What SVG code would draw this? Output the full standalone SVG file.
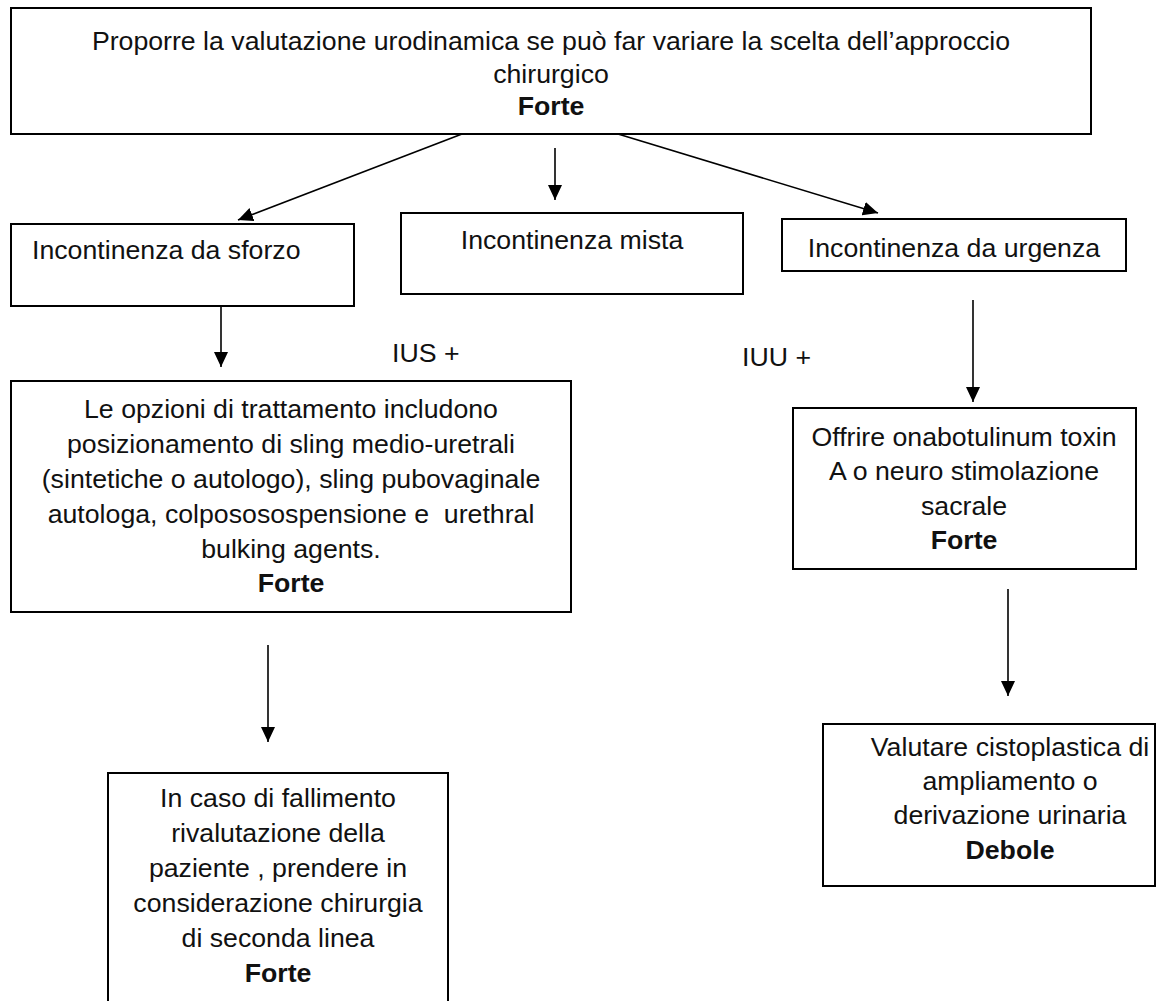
<svg xmlns="http://www.w3.org/2000/svg" width="1157" height="1001" viewBox="0 0 1157 1001">
<style>
.box{fill:#fff;stroke:#000;stroke-width:2}
.t{font-family:"Liberation Sans",Arial,sans-serif;font-size:26.7px;fill:#111}
.c{text-anchor:middle}
.b{font-weight:bold}
.edge{stroke:#000;stroke-width:1.6;fill:none}
</style>
<defs>
<marker id="ah" markerUnits="userSpaceOnUse" markerWidth="16" markerHeight="14" refX="15" refY="7" orient="auto">
<path d="M0,0 L15,7 L0,14 Z" fill="#000"/>
</marker>
</defs>
<rect width="1157" height="1001" fill="#fff"/>
<g id="connectors">
<line class="edge" x1="462" y1="134" x2="238" y2="220" marker-end="url(#ah)"/>
<line class="edge" x1="555" y1="148" x2="555" y2="200" marker-end="url(#ah)"/>
<line class="edge" x1="618" y1="134" x2="878" y2="213" marker-end="url(#ah)"/>
<line class="edge" x1="221" y1="306" x2="221" y2="367" marker-end="url(#ah)"/>
<line class="edge" x1="973" y1="300" x2="973" y2="402" marker-end="url(#ah)"/>
<line class="edge" x1="268" y1="645" x2="268" y2="742" marker-end="url(#ah)"/>
<line class="edge" x1="1008" y1="589" x2="1008" y2="696" marker-end="url(#ah)"/>
</g>
<g id="n-top">
<rect class="box" x="11" y="8" width="1080" height="126"/>
<text class="t c" x="551" y="50">Proporre la valutazione urodinamica se può far variare la scelta dell’approccio</text>
<text class="t c" x="551" y="83">chirurgico</text>
<text class="t c b" x="551" y="115">Forte</text>
</g>
<g id="n-sforzo">
<rect class="box" x="11" y="224" width="343" height="82"/>
<text class="t" x="32" y="259">Incontinenza da sforzo</text>
</g>
<g id="n-mista">
<rect class="box" x="401" y="213" width="342" height="81"/>
<text class="t c" x="572" y="249">Incontinenza mista</text>
</g>
<g id="n-urgenza">
<rect class="box" x="782" y="219" width="344" height="52"/>
<text class="t c" x="954" y="257">Incontinenza da urgenza</text>
</g>
<g id="lbl-ius">
<text class="t" x="392" y="362">IUS +</text>
</g>
<g id="lbl-iuu">
<text class="t" x="742" y="366">IUU +</text>
</g>
<g id="n-opzioni">
<rect class="box" x="11" y="381" width="560" height="231"/>
<text class="t c" x="291" y="418">Le opzioni di trattamento includono</text>
<text class="t c" x="291" y="453">posizionamento di sling medio-uretrali</text>
<text class="t c" x="291" y="488">(sintetiche o autologo), sling pubovaginale</text>
<text class="t c" x="291" y="523" style="white-space:pre">autologa, colpososospensione e  urethral</text>
<text class="t c" x="291" y="558">bulking agents.</text>
<text class="t c b" x="291" y="592">Forte</text>
</g>
<g id="n-offrire">
<rect class="box" x="793" y="408" width="343" height="161"/>
<text class="t c" x="964" y="446">Offrire onabotulinum toxin</text>
<text class="t c" x="964" y="480">A o neuro stimolazione</text>
<text class="t c" x="964" y="515">sacrale</text>
<text class="t c b" x="964" y="549">Forte</text>
</g>
<g id="n-fallimento">
<rect class="box" x="108" y="773" width="340" height="260"/>
<text class="t c" x="278" y="807">In caso di fallimento</text>
<text class="t c" x="278" y="842">rivalutazione della</text>
<text class="t c" x="278" y="877">paziente , prendere in</text>
<text class="t c" x="278" y="912">considerazione chirurgia</text>
<text class="t c" x="278" y="947">di seconda linea</text>
<text class="t c b" x="278" y="982">Forte</text>
</g>
<g id="n-cistoplastica">
<rect class="box" x="823" y="724" width="332" height="162"/>
<text class="t c" x="1010" y="756">Valutare cistoplastica di</text>
<text class="t c" x="1010" y="790">ampliamento o</text>
<text class="t c" x="1010" y="824">derivazione urinaria</text>
<text class="t c b" x="1010" y="859">Debole</text>
</g>
</svg>
